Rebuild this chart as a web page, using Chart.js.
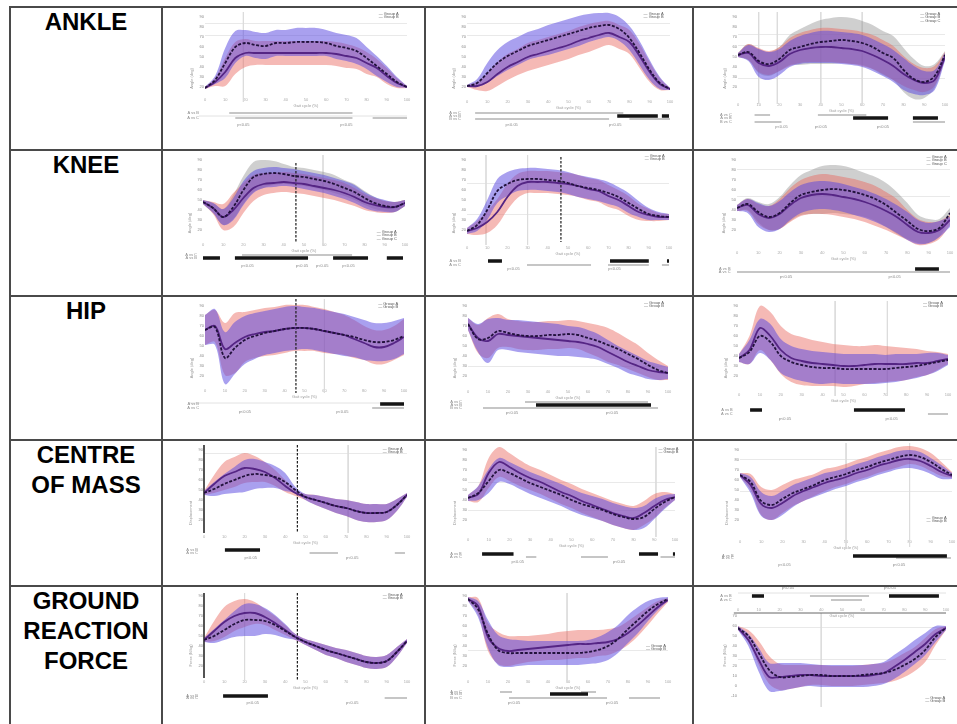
<!DOCTYPE html>
<html><head><meta charset="utf-8">
<script src="https://cdn.jsdelivr.net/npm/chart.js@4.4.0/dist/chart.umd.min.js"></script>
<style>
html,body{margin:0;padding:0;background:#fff;}
body{width:957px;height:724px;position:relative;overflow:hidden;font-family:"Liberation Sans",Arial,sans-serif;}
.hl{position:absolute;height:2px;background:#4a4a4a;left:9px;width:948px;}
.vl{position:absolute;width:2px;background:#4a4a4a;top:6px;height:718px;}
.lab{position:absolute;left:10px;width:152px;text-align:center;font-weight:bold;font-size:24px;line-height:30px;color:#000;}
canvas{position:absolute;}
</style></head><body>
<div class="hl" style="top:6px"></div>
<div class="hl" style="top:149px"></div>
<div class="hl" style="top:295px"></div>
<div class="hl" style="top:439px"></div>
<div class="hl" style="top:585px"></div>
<div class="vl" style="left:9px"></div>
<div class="vl" style="left:161px"></div>
<div class="vl" style="left:424px"></div>
<div class="vl" style="left:692px"></div>
<div class="lab" style="top:7px">ANKLE</div>
<div class="lab" style="top:150px">KNEE</div>
<div class="lab" style="top:296px">HIP</div>
<div class="lab" style="top:440px">CENTRE<br>OF MASS</div>
<div class="lab" style="top:586px">GROUND<br>REACTION<br>FORCE</div>
<script>
// ---------- shared ----------
const pct = [0,5,10,15,20,25,30,35,40,45,50,55,60,65,70,75,80,85,90,95,100];
const xTickVals = [0,10,20,30,40,50,60,70,80,90,100];
const groupNames = ['Group A','Group B','Group C'];
const rowNames = ['A vs B','A vs C','B vs C'];
const sigText = 'p<0.05';
const xTitle = 'Gait cycle (%)';
const yTitles = ['Angle (deg)','Angle (deg)','Angle (deg)','Displacement','Force (N/kg)'];
const yLabelVals = [20,30,40,50,60,70,80,90];
const yLabelValsLow = [-10,0,10,20,30,40,50,60,70];

// ---------- ANKLE ----------
const A1_red    = [19,25,35,49,54,54,54,54,54,54,54,54,54,53,51,49,44,39,31,24,20];
const A1_redSd  = [1,4,14,16,14,12,12,12,12,12,12,12,12,12,12,11,11,9,8,5,1];
const A1_blue   = [19,27,44,60,64,62,61,64,64,65,65,65,64,61,59,56,49,41,33,25,20];
const A1_blueSd = [1,4,15,16,13,13,13,13,13,14,14,14,13,13,13,13,11,10,8,5,1];
const A1_grid = [84,72];
const A1_vGrey = [[19,95,5]];
const A1_greyBars = [[-6,12,73],[-11,15,73],[-11,83,100]];
const A1_faint = [[-9,-3,100]];
const A1_sig = [[19,-18],[70,-18]];

const A2_red    = [21,21,25,33,40,45,50,53,56,59,62,66,69,72,74,70,65,51,35,23,18];
const A2_redSd  = [1,4,9,12,13,13,14,14,14,14,14,14,14,13,12,12,12,12,10,6,1];
const A2_blue   = [21,24,34,44,51,56,61,64,67,70,73,76,79,81,82,78,69,54,37,24,18];
const A2_blueSd = [1,4,10,13,14,14,14,14,15,15,15,15,14,13,12,12,12,12,10,6,1];
const A2_grid = [84,72];
const A2_black = [[-9,74,94],[-9,96,99.5]];
const A2_greyBars = [[-6,4,77],[-12,4,70],[-12,80,100]];
const A2_sig = [[22,-18],[73,-18]];

const A3_grey   = [52,55,46,43,48,57,60,63,65,66,67,66,64,60,54,49,37,28,25,31,52];
const A3_greySd = [2,8,12,12,12,15,18,20,22,23,23,23,22,22,22,22,22,20,16,12,4];
const A3_blue   = [52,54,44,41,45,53,57,59,60,60,59,58,56,52,47,41,33,27,24,27,50];
const A3_blueSd = [2,8,14,14,13,13,14,15,16,16,16,16,16,16,16,16,16,14,12,10,4];
const A3_red    = [52,55,47,44,48,55,59,61,62,62,61,60,58,55,50,44,36,30,27,31,51];
const A3_redSd  = [2,8,12,12,12,14,15,16,17,17,17,17,17,17,17,17,15,13,12,10,4];
const A3_grid = [73,61,29];
const A3_vGrey = [[10,95,3],[19,95,3],[40,95,3],[60,95,3]];
const A3_black = [[-11,55.6,72.5],[-11,84.5,96.6]];
const A3_greyBars = [[-8,8,15.5],[-8,38.6,62],[-15,8,21],[-15,84.5,100]];
const A3_sig = [[21,-20],[40,-20],[70,-20]];

// ---------- KNEE ----------
const K1_grey   = [48,42,33,43,60,73,76,77,76,74,73,71,69,66,62,58,52,47,44,43,47];
const K1_greySd = [2,5,8,12,14,15,14,12,10,9,9,9,9,9,8,8,7,6,5,5,3];
const K1_blue   = [48,42,33,41,57,68,72,73,73,72,70,68,66,63,60,56,50,46,44,43,47];
const K1_blueSd = [2,5,8,11,12,11,10,10,9,9,9,9,9,9,9,9,8,7,6,5,3];
const K1_red    = [48,42,33,40,52,62,66,67,68,67,66,64,62,60,57,53,48,45,43,43,47];
const K1_redSd  = [2,6,13,17,15,13,11,10,10,10,10,10,10,10,10,9,8,7,6,5,3];
const K1_vDash = [[46,87,7]];
const K1_vGrey = [[59.4,95,5]];
const K1_black = [[-8,0,8.4],[-8,15.8,52],[-8,64.4,81.7],[-8,91,99]];
const K1_greyBars = [[-5,19.3,73.8]];
const K1_sig = [[22,-16],[49,-16],[59,-16],[72,-16]];

const K2_red    = [19,22,28,38,53,64,68,68,68,67,66,64,61,59,54,50,44,38,35,33,33];
const K2_redSd  = [3,7,11,13,13,12,11,11,11,11,11,11,11,11,11,10,10,8,6,4,3];
const K2_blue   = [19,25,40,59,66,70,71,71,70,69,67,64,62,60,57,53,47,41,36,34,33];
const K2_blueSd = [3,6,10,12,12,11,11,11,11,11,11,11,11,11,11,10,10,8,6,4,3];
const K2_grid = [66,36];
const K2_vDash = [[46.5,93,8]];
const K2_vGrey = [[30,95,5],[9.4,95,5]];
const K2_black = [[-11,10.4,17.3],[-11,70.8,90],[-11,99,100]];
const K2_greyBars = [[-15,29.7,61.4],[-15,69.8,90],[-15,96.5,100]];
const K2_sig = [[23,-19],[73,-19]];

const K3_grey   = [42,46,38,33,37,47,55,58,60,61,60,58,55,51,45,37,29,21,19,22,37];
const K3_greySd = [3,6,10,13,16,18,20,22,24,24,24,23,22,22,22,21,18,14,12,9,5];
const K3_red    = [42,45,36,32,36,45,52,55,56,55,53,51,48,44,39,33,25,18,17,20,30];
const K3_redSd  = [3,6,10,12,15,17,18,19,20,20,20,20,20,20,19,18,15,13,11,9,5];
const K3_blue   = [42,44,35,31,35,44,51,54,55,54,52,49,46,42,37,31,24,18,17,21,28];
const K3_blueSd = [3,7,12,13,14,14,14,14,14,14,14,14,14,14,14,14,14,12,10,8,5];
const K3_grid = [54,81];
const K3_black = [[-19,83.6,94.8]];
const K3_greyBars = [[-22,0,100]];
const K3_sig = [[23,-27],[74,-27]];

// ---------- HIP ----------
const H1_red    = [66,70,47,53,59,62,64,65,67,68,68,67,65,63,61,57,53,49,49,53,59];
const H1_redSd  = [15,16,26,30,25,24,24,24,24,23,23,22,22,21,20,19,17,17,17,17,18];
const H1_blue   = [66,69,38,48,56,60,63,65,67,68,68,67,65,63,61,59,56,54,54,56,60];
const H1_blueSd = [15,18,26,26,24,23,22,22,22,22,21,21,21,21,21,20,20,19,19,19,18];
const H1_vDash = [[45.7,97,3]];
const H1_vGrey = [[60,97,3]];
const H1_black = [[-8,88,100]];
const H1_greyBars = [[-12,84,100]];
const H1_faint = [[-7,-8,100]];
const H1_sig = [[20,-16],[69,-16]];

const H2_red    = [72,57,58,65,63,61,60,60,61,61,62,61,58,55,51,47,42,37,31,26,23];
const H2_redSd  = [6,14,20,17,14,14,14,14,14,14,14,14,15,16,17,16,15,14,12,10,7];
const H2_blue   = [72,58,55,62,61,60,59,58,57,56,55,54,52,49,44,39,34,30,26,24,23];
const H2_blueSd = [6,14,22,16,15,16,16,16,16,16,15,15,14,13,12,11,11,10,9,8,6];
const H2_grid = [30];
const H2_black = [[-9,34,91.5]];
const H2_greyBars = [[-6,28.5,90],[-12,7.5,95]];
const H2_sig = [[22,-17],[72,-17]];

const H3_red    = [38,46,68,60,46,38,35,33,32,31,30,30,31,32,32,32,32,33,33,35,37];
const H3_redSd  = [4,14,22,24,24,24,24,23,22,21,21,20,19,19,18,17,16,14,12,9,5];
const H3_blue   = [38,44,60,54,40,34,31,29,28,28,27,27,27,27,27,28,29,30,32,34,36];
const H3_blueSd = [4,12,17,18,17,16,16,16,16,15,15,15,15,15,14,14,13,12,11,9,5];
const H3_vGrey = [[46,95,0],[71,95,0]];
const H3_black = [[-14,5.3,11],[-14,55,79.4]];
const H3_greyBars = [[-18,90.4,100]];
const H3_sig = [[22,-23],[73,-23]];

// ---------- CENTRE OF MASS ----------
const C1_red    = [47,56,64,68,72,71,68,62,54,47,43,40,37,34,32,29,27,27,28,35,45];
const C1_redSd  = [2,9,14,15,15,13,10,8,6,3,3,5,6,7,8,9,9,9,8,6,2];
const C1_blue   = [47,51,56,60,64,66,65,63,58,50,43,40,37,34,32,29,27,27,28,35,45];
const C1_blueSd = [2,7,10,13,16,15,13,11,9,3,3,5,6,7,8,9,9,9,8,6,2];
const C1_grid = [87];
const C1_vAxis = [[0,95,7]];
const C1_vDash = [[46,95,7]];
const C1_vGrey = [[71,95,7]];
const C1_black = [[-10,10.3,27.6]];
const C1_greyBars = [[-13,52,66],[-13,94,99]];
const C1_sig = [[23,-18],[73,-18]];

const C2_red    = [42,46,67,78,73,67,62,58,53,48,44,39,35,31,27,24,22,27,34,40,43];
const C2_redSd  = [3,8,15,15,14,13,12,12,12,12,12,12,12,12,12,12,12,12,12,8,3];
const C2_blue   = [42,47,59,70,67,62,57,53,49,45,40,36,33,30,26,23,21,23,31,38,43];
const C2_blueSd = [3,7,12,12,11,11,11,11,11,11,11,11,11,11,11,11,11,11,10,7,3];
const C2_grid = [57,30];
const C2_vGrey = [[90.8,93,3]];
const C2_black = [[-14,6.8,22],[-14,82.6,91.8],[-14,99,100]];
const C2_greyBars = [[-17,28,33],[-17,54.6,67.6],[-17,93,100]];
const C2_sig = [[24,-22],[73,-22]];

const C3_red    = [65,58,39,35,41,47,51,55,60,63,66,70,73,77,80,83,85,83,78,71,65];
const C3_redSd  = [2,8,14,15,14,13,12,11,11,10,10,10,10,10,10,10,9,9,9,7,3];
const C3_blue   = [65,55,36,32,37,44,49,53,57,60,63,67,70,74,77,80,81,79,74,68,64];
const C3_blueSd = [2,8,12,12,12,11,10,10,10,9,9,9,9,9,9,9,9,9,8,7,3];
const C3_grid = [80,48];
const C3_vGrey = [[50,97,-7],[80,97,-7]];
const C3_black = [[-16,53.3,97.6]];
const C3_greyBars = [[-18,73.6,99.5]];
const C3_sig = [[21,-25],[75,-25]];

// ---------- GROUND REACTION FORCE ----------
const G1_red    = [46,55,64,70,73,73,69,63,56,49,44,40,36,33,30,27,24,23,25,34,45];
const G1_redSd  = [2,10,15,15,14,11,8,7,5,3,3,4,5,5,6,6,6,6,6,5,2];
const G1_blue   = [46,50,56,62,66,66,65,61,55,49,44,40,36,33,30,27,24,23,25,34,45];
const G1_blueSd = [2,7,10,13,16,16,13,10,7,3,3,4,5,5,6,6,6,6,6,5,2];
const G1_vAxis = [[0,93,8]];
const G1_vDash = [[46,93,6]];
const G1_vGrey = [[20,93,6]];
const G1_black = [[-10,9.4,31.5]];
const G1_greyBars = [[-12,89,100]];
const G1_sig = [[24,-17],[73,-17]];

const G2_red    = [87,80,49,38,35,36,37,38,39,40,41,42,42,43,44,47,53,61,70,79,86];
const G2_redSd  = [2,8,14,16,15,14,13,13,13,14,14,14,14,13,13,12,12,11,9,6,2];
const G2_blue   = [87,77,52,36,33,33,33,33,33,33,33,33,34,36,40,47,57,66,75,82,87];
const G2_blueSd = [2,8,14,15,14,13,12,12,12,12,12,12,12,13,14,14,14,13,10,6,2];
const G2_grid = [36];
const G2_vGrey = [[49.5,93,4]];
const G2_black = [[-8,41,60]];
const G2_greyBars = [[-6,16,22],[-6,56.5,64],[-12,20.5,69.5],[-12,80.5,96]];
const G2_sig = [[23,-17],[72,-17]];

const G3_red    = [58,50,33,16,9,9,10,11,11,10,10,10,11,12,13,16,21,27,36,49,58];
const G3_redSd  = [2,6,12,14,13,12,11,10,10,10,10,10,10,10,10,11,12,12,12,8,2];
const G3_blue   = [58,46,26,9,9,10,11,11,10,10,10,10,10,11,13,19,26,34,42,52,58];
const G3_blueSd = [2,6,12,14,14,13,12,11,11,11,11,11,11,11,11,12,12,12,11,8,2];
const G3_grid = [58,27];
const G3_vGrey = [[40,73,-21]];
const G3_black = [[90,6.7,12.5],[90,72.6,96.6]];
const G3_greyBars = [[90,34.6,63],[86,44.7,59.6]];
const G3_faint = [[93,0,100]];
const G3_hDark = [[73,-2,100]];
const G3_sig = [[24,98],[73,98]];

// ---------- layout (positions only) ----------
const colLeft = [163,426,694], colWidth = [261,266,263];
const rowTop = [8,151,297,441,587], rowHeight = [141,144,142,144,137];
const axisW = 16;

const panels = [
 {row:0,col:0,L:205,R:407,red:A1_red,redSd:A1_redSd,blue:A1_blue,blueSd:A1_blueSd,dashed:'blue',solid:'red',grid:A1_grid,vGrey:A1_vGrey,greyBars:A1_greyBars,faint:A1_faint,xAxisV:10,legend:[86,93],sig:A1_sig},
 {row:0,col:1,L:467,R:670,red:A2_red,redSd:A2_redSd,blue:A2_blue,blueSd:A2_blueSd,dashed:'blue',solid:'red',grid:A2_grid,black:A2_black,greyBars:A2_greyBars,xAxisV:8,legend:[87,93],sig:A2_sig},
 {row:0,col:2,L:738,R:945,red:A3_red,redSd:A3_redSd,blue:A3_blue,blueSd:A3_blueSd,grey:A3_grey,greySd:A3_greySd,dashed:'grey',solid:'blue',grid:A3_grid,vGrey:A3_vGrey,black:A3_black,greyBars:A3_greyBars,xAxisV:5,legend:[88,93],sig:A3_sig},
 {row:1,col:0,L:203,R:405,red:K1_red,redSd:K1_redSd,blue:K1_blue,blueSd:K1_blueSd,grey:K1_grey,greySd:K1_greySd,dashed:'grey',solid:'red',vDash:K1_vDash,vGrey:K1_vGrey,black:K1_black,greyBars:K1_greyBars,xAxisV:8,legend:[86,18],sig:K1_sig},
 {row:1,col:1,L:467,R:669,red:K2_red,redSd:K2_redSd,blue:K2_blue,blueSd:K2_blueSd,dashed:'blue',solid:'red',grid:K2_grid,vDash:K2_vDash,vGrey:K2_vGrey,black:K2_black,greyBars:K2_greyBars,xAxisV:5,legend:[88,94],sig:K2_sig},
 {row:1,col:2,L:737,R:950,red:K3_red,redSd:K3_redSd,blue:K3_blue,blueSd:K3_blueSd,grey:K3_grey,greySd:K3_greySd,dashed:'grey',solid:'red',grid:K3_grid,black:K3_black,greyBars:K3_greyBars,xAxisV:0,legend:[89,93],sig:K3_sig},
 {row:2,col:0,L:205,R:404,red:H1_red,redSd:H1_redSd,blue:H1_blue,blueSd:H1_blueSd,dashed:'blue',solid:'red',vDash:H1_vDash,vGrey:H1_vGrey,black:H1_black,greyBars:H1_greyBars,faint:H1_faint,xAxisV:8,legend:[87,92],sig:H1_sig},
 {row:2,col:1,L:468,R:668,red:H2_red,redSd:H2_redSd,blue:H2_blue,blueSd:H2_blueSd,dashed:'red',solid:'blue',grid:H2_grid,black:H2_black,greyBars:H2_greyBars,xAxisV:7,legend:[88,93],sig:H2_sig},
 {row:2,col:2,L:739,R:948,red:H3_red,redSd:H3_redSd,blue:H3_blue,blueSd:H3_blueSd,dashed:'blue',solid:'red',vGrey:H3_vGrey,black:H3_black,greyBars:H3_greyBars,xAxisV:4,legend:[88,93],sig:H3_sig},
 {row:3,col:0,L:204,R:407,red:C1_red,redSd:C1_redSd,blue:C1_blue,blueSd:C1_blueSd,dashed:'blue',solid:'red',grid:C1_grid,vAxis:C1_vAxis,vDash:C1_vDash,vGrey:C1_vGrey,black:C1_black,greyBars:C1_greyBars,xAxisV:6,legend:[88,91],sig:C1_sig},
 {row:3,col:1,L:468,R:675,red:C2_red,redSd:C2_redSd,blue:C2_blue,blueSd:C2_blueSd,dashed:'blue',solid:'red',grid:C2_grid,vGrey:C2_vGrey,black:C2_black,greyBars:C2_greyBars,xAxisV:3,legend:[92,91],sig:C2_sig},
 {row:3,col:2,L:740,R:952,red:C3_red,redSd:C3_redSd,blue:C3_blue,blueSd:C3_blueSd,dashed:'red',solid:'blue',grid:C3_grid,vGrey:C3_vGrey,black:C3_black,greyBars:C3_greyBars,xAxisV:1,legend:[88,22],sig:C3_sig},
 {row:4,col:0,L:204,R:407,red:G1_red,redSd:G1_redSd,blue:G1_blue,blueSd:G1_blueSd,dashed:'blue',solid:'red',vAxis:G1_vAxis,vDash:G1_vDash,vGrey:G1_vGrey,black:G1_black,greyBars:G1_greyBars,xAxisV:7,legend:[88,91],sig:G1_sig},
 {row:4,col:1,L:468,R:668,red:G2_red,redSd:G2_redSd,blue:G2_blue,blueSd:G2_blueSd,dashed:'blue',solid:'red',grid:G2_grid,vGrey:G2_vGrey,black:G2_black,greyBars:G2_greyBars,xAxisV:7,legend:[89,40],sig:G2_sig},
 {row:4,col:2,L:738,R:946,red:G3_red,redSd:G3_redSd,blue:G3_blue,blueSd:G3_blueSd,dashed:'red',solid:'blue',grid:G3_grid,vGrey:G3_vGrey,black:G3_black,greyBars:G3_greyBars,faint:G3_faint,hDark:G3_hDark,xAxisV:79,legend:[90,-12],sig:G3_sig,yLab:yLabelValsLow}
];

// ---------- styles ----------
const COL_RED = 'rgba(232,100,90,0.45)';
const COL_BLUE = 'rgba(90,72,225,0.52)';
const COL_GREY = 'rgba(140,140,140,0.42)';

function pts(mean, sd, k){ return mean.map((m,i)=>({x:pct[i], y:m + k*sd[i]})); }
function segData(rows){ const d=[]; rows.forEach(r=>{ d.push({x:r[1],y:r[0]},{x:r[2],y:r[0]},{x:r[2],y:null}); }); return d; }
function vData(list){ const d=[]; list.forEach(r=>{ d.push({x:r[0],y:r[1]},{x:r[0],y:r[2]},{x:r[0],y:null}); }); return d; }
function plain(data, color, width, dash){ return {data, borderColor:color, borderWidth:width, borderDash:dash||[], pointRadius:0, fill:false, tension:0, borderCapStyle:'butt', clip:false, spanGaps:false}; }
function meanDs(mean, color, width, dash){ return {data:pts(mean, mean.map(()=>0), 0), borderColor:color, borderWidth:width, borderDash:dash||[], pointRadius:0, fill:false, tension:0.35}; }
function bandDs(mean, sd, color){ return [
  {data:pts(mean,sd,-1), borderWidth:0, borderColor:'rgba(0,0,0,0)', pointRadius:0, fill:false, tension:0.35},
  {data:pts(mean,sd,1), borderWidth:0, borderColor:'rgba(0,0,0,0)', pointRadius:0, fill:'-1', backgroundColor:color, tension:0.35}
]; }

const notesPlugin = {
  id:'notes',
  afterDraw(chart, args, opts){
    const ctx = chart.ctx, xs = chart.scales.x, ys = chart.scales.y;
    ctx.save();
    (opts.items||[]).forEach(it=>{
      ctx.font = (it.size||4) + 'px "Liberation Sans", Arial';
      ctx.fillStyle = it.color || '#666';
      ctx.textAlign = it.align || 'left';
      ctx.textBaseline = 'middle';
      ctx.fillText(it.t, xs.getPixelForValue(it.x), ys.getPixelForValue(it.y));
    });
    ctx.restore();
  }
};

panels.forEach(p=>{
  const cv = document.createElement('canvas');
  const W = colWidth[p.col], H = rowHeight[p.row], left = colLeft[p.col], top = rowTop[p.row];
  cv.width = W; cv.height = H;
  cv.style.left = left+'px'; cv.style.top = top+'px';
  cv.style.width = W+'px'; cv.style.height = H+'px';
  document.body.appendChild(cv);

  const groups = {red:[p.red,p.redSd], blue:[p.blue,p.blueSd], grey:[p.grey,p.greySd]};
  const ds = [];
  ds.push(meanDs(groups[p.dashed][0], '#22123c', 1.8, [3,1.6]));
  ds.push(meanDs(groups[p.solid][0], '#552584', 1.8));
  if (p.vDash) ds.push(plain(vData(p.vDash), '#1c1c1c', 1.2, [2.5,1.5]));
  if (p.vAxis) ds.push(plain(vData(p.vAxis), '#2a2a2a', 1.6));
  if (p.hDark) ds.push(plain(segData(p.hDark), '#666', 1));
  if (p.black) ds.push(plain(segData(p.black), '#151515', 3.5));
  if (p.greyBars) ds.push(plain(segData(p.greyBars), '#c6c6c6', 2));
  ds.push(...bandDs(p.blue, p.blueSd, COL_BLUE));
  ds.push(...bandDs(p.red, p.redSd, COL_RED));
  if (p.grey) ds.push(...bandDs(p.grey, p.greySd, COL_GREY));
  if (p.vGrey) ds.push(plain(vData(p.vGrey), '#dcdcdc', 1));
  if (p.faint) ds.push(plain(segData(p.faint), '#e2e2e2', 1));

  const gridVals = p.grid || [];
  const labVals = p.yLab || yLabelVals;
  const tickVals = Array.from(new Set([...labVals, ...gridVals]));

  const items = [];
  const nGroups = p.grey ? 3 : 2;
  for (let i=0;i<nGroups;i++) items.push({x:p.legend[0], y:p.legend[1]-i*3.2, t:'\u2014 '+groupNames[i], color:'#555'});
  const rowVs = Array.from(new Set([...(p.black||[]), ...(p.greyBars||[])].map(r=>r[0])));
  rowVs.forEach((v,i)=>items.push({x:-3, y:v, t:rowNames[i%3], align:'right', color:'#888'}));
  p.sig.forEach(s=>items.push({x:s[0], y:s[1], t:sigText, align:'center', color:'#888'}));
  items.push({x:50, y:p.xAxisV-8.5, t:xTitle, align:'center', color:'#999'});

  new Chart(cv, {
    type:'line',
    data:{datasets:ds},
    plugins:[notesPlugin],
    options:{
      responsive:false, animation:false, events:[],
      layout:{padding:{left:p.L-left-axisW, right:left+W-p.R, top:0, bottom:0}},
      plugins:{legend:{display:false}, tooltip:{enabled:false}, notes:{items}},
      scales:{
        x:{type:'linear', min:0, max:100, position:{y:p.xAxisV},
           afterBuildTicks: ax=>{ ax.ticks = xTickVals.map(v=>({value:v})); },
           afterFit: ax=>{ ax.paddingLeft=0; ax.paddingRight=0; },
           ticks:{font:{size:4}, color:'#aaa', padding:0, maxRotation:0, autoSkip:false},
           grid:{display:false, drawTicks:false}, border:{display:false}},
        y:{type:'linear', min:99-H, max:99,
           afterBuildTicks: ax=>{ ax.ticks = tickVals.map(v=>({value:v})); },
           afterFit: ax=>{ ax.width = axisW; ax.paddingTop=0; ax.paddingBottom=0; },
           ticks:{font:{size:4}, color:'#888', padding:1, callback:v=> labVals.includes(v) ? String(v) : ''},
           grid:{color: c => (c.tick && gridVals.includes(c.tick.value)) ? '#e3e3e3' : 'rgba(0,0,0,0)', drawTicks:false, lineWidth:0.8},
           border:{display:false},
           title:{display:true, text:yTitles[p.row], font:{size:4}, color:'#999', padding:0}}
      }
    }
  });
});
</script>
</body></html>
